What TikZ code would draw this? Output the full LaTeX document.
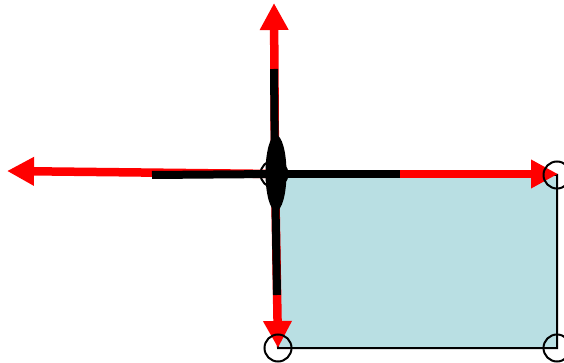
\documentclass[tikz,border=0pt]{standalone}
\usetikzlibrary{arrows.meta}
\definecolor{bodyfill}{RGB}{185,223,227}
\begin{document}
\begin{tikzpicture}[x=1pt,y=-1pt,
  redarrow/.style={draw=red,line width=8.5pt,-{Triangle[length=27pt,width=27pt]}},
  blackaxis/.style={draw=black,line width=8pt},
  corner/.style={circle,draw=black,line width=2pt,minimum size=27pt,inner sep=0pt},
  bodyedge/.style={draw=black,line width=2pt,fill=bodyfill}]
\useasboundingbox (0,0) rectangle (564,363);
% body corners
\coordinate (TL) at (276,175);
\coordinate (TR) at (557,175);
\coordinate (BR) at (557,348);
\coordinate (BL) at (278,348);
\path[bodyedge] (TL) -- (TR) -- (BR) -- (BL) -- cycle;
% origin and tips
\coordinate (O) at (275,174);
\coordinate (up) at (274,3);
\coordinate (left) at (7,171);
\coordinate (right) at (558,174);
\coordinate (down) at (278,348);
\draw[redarrow] (O) -- (up);
\draw[redarrow] (O) -- (left);
\draw[redarrow] (O) -- (right);
\draw[redarrow] (O) -- (down);
% black axes
\coordinate (bu) at (274,69);
\coordinate (bl) at (152,175);
\coordinate (br) at (400,174);
\coordinate (bd) at (277,295);
\draw[blackaxis] (O) -- (bu);
\draw[blackaxis] (O) -- (bl);
\draw[blackaxis] (O) -- (br);
\draw[blackaxis] (O) -- (bd);
% corner circles
\node[corner] (c1) at (274,174) {};
\node[corner] (c2) at (557,175) {};
\node[corner] (c3) at (557,348) {};
\node[corner] (c4) at (278,348) {};
% ellipse at origin
\fill[black] (276,173) ellipse [x radius=10.5, y radius=38];
\end{tikzpicture}
\end{document}
